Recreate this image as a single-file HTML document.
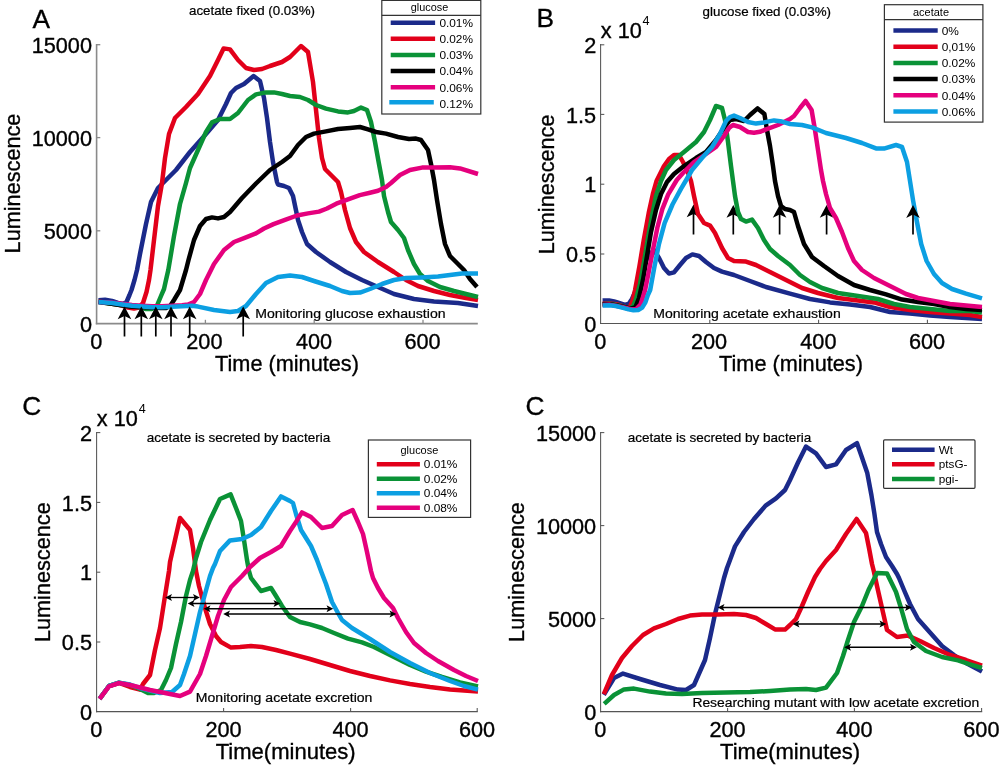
<!DOCTYPE html>
<html><head><meta charset="utf-8"><title>Figure</title>
<style>
html,body{margin:0;padding:0;background:#fff;}
svg{display:block;}
text{font-family:"Liberation Sans", sans-serif;fill:#000;}
</style></head><body>
<svg width="1000" height="765" viewBox="0 0 1000 765">
<rect x="0" y="0" width="1000" height="765" fill="#fff"/>
<g id="panel-a">
<line x1="96.6" y1="44.0" x2="96.6" y2="324.2" stroke="#8a8a8a" stroke-width="1.60"/>
<line x1="95.8" y1="323.6" x2="477.8" y2="323.6" stroke="#8a8a8a" stroke-width="1.60"/>
<line x1="96.6" y1="44.7" x2="100.3" y2="44.7" stroke="#8a8a8a" stroke-width="1.30"/>
<line x1="96.6" y1="137.6" x2="100.3" y2="137.6" stroke="#8a8a8a" stroke-width="1.30"/>
<line x1="96.6" y1="230.8" x2="100.3" y2="230.8" stroke="#8a8a8a" stroke-width="1.30"/>
<line x1="205.4" y1="323.6" x2="205.4" y2="319.8" stroke="#8a8a8a" stroke-width="1.30"/>
<line x1="314.2" y1="323.6" x2="314.2" y2="319.8" stroke="#8a8a8a" stroke-width="1.30"/>
<line x1="423.0" y1="323.6" x2="423.0" y2="319.8" stroke="#8a8a8a" stroke-width="1.30"/>
<polyline points="98.5,300.2 105.0,299.8 112.0,301.0 118.0,303.0 123.0,304.0 126.5,302.0 129.5,295.0 131.5,290.0 134.5,280.0 137.0,270.0 140.0,254.0 146.0,224.0 151.0,202.0 158.0,188.0 163.0,183.0 176.0,170.0 190.0,152.0 206.0,134.0 218.0,120.0 226.0,104.0 231.0,93.0 236.0,88.0 244.0,84.0 253.6,76.0 260.0,81.0 264.0,98.0 267.0,118.0 270.0,142.0 273.0,162.0 277.0,182.0 278.0,184.5 284.0,186.0 289.0,188.0 293.0,196.0 298.0,220.0 302.0,232.0 307.0,244.0 316.0,252.0 330.0,262.0 346.0,272.0 362.0,280.0 378.0,287.0 394.0,294.0 414.0,299.0 434.0,301.6 458.0,303.0 478.0,306.0" fill="none" stroke="#1b2a8a" stroke-width="4.5" stroke-linejoin="round" stroke-linecap="butt"/>
<polyline points="98.5,301.6 110.0,303.4 122.0,305.5 128.0,307.5 134.0,308.6 139.0,307.5 143.0,303.0 146.5,292.0 149.0,280.0 150.5,270.0 154.0,240.0 158.0,206.0 162.0,183.0 165.0,158.0 169.0,134.0 175.0,118.0 186.0,107.0 198.0,94.0 210.0,76.0 218.0,60.0 223.6,48.4 230.0,49.4 238.0,60.0 246.0,68.0 254.0,70.0 262.0,69.0 270.0,66.0 282.0,62.0 290.0,57.0 301.0,46.0 308.0,52.0 313.0,82.0 316.0,110.0 319.0,138.0 322.0,158.0 325.0,169.0 332.0,176.0 338.0,182.0 341.0,192.0 345.0,210.0 350.0,228.0 356.0,242.0 364.0,252.0 378.0,262.0 394.0,272.0 406.0,280.0 418.0,286.0 434.0,291.0 450.0,295.0 466.0,298.0 478.0,300.0" fill="none" stroke="#e2001a" stroke-width="4.5" stroke-linejoin="round" stroke-linecap="butt"/>
<polyline points="98.5,301.8 110.0,303.6 130.0,306.2 140.0,307.2 146.0,309.0 152.0,309.0 157.0,305.5 161.0,296.0 164.0,289.0 166.0,280.0 168.3,270.0 174.0,236.0 180.0,204.0 186.0,183.0 190.0,168.0 198.0,150.0 206.0,132.0 212.0,122.4 220.0,119.0 230.0,119.0 238.0,113.0 248.0,100.0 256.0,94.4 266.0,92.4 274.0,92.4 282.0,94.0 290.0,96.0 300.0,97.0 308.0,100.0 316.0,105.0 326.0,108.6 338.0,111.4 348.0,112.4 354.0,111.0 361.0,107.6 367.0,110.0 371.0,122.0 375.0,142.0 379.0,164.0 382.0,180.0 384.0,196.0 388.0,212.0 391.0,222.0 398.0,230.0 404.0,238.0 408.0,250.0 414.0,264.0 420.0,274.0 428.0,281.0 440.0,287.0 454.0,291.0 466.0,294.0 478.0,297.0" fill="none" stroke="#0a9236" stroke-width="4.5" stroke-linejoin="round" stroke-linecap="butt"/>
<polyline points="98.5,302.0 110.0,303.6 130.0,306.4 150.0,307.4 160.0,308.0 166.0,308.0 170.5,305.5 174.0,300.0 180.0,290.0 183.0,280.0 186.0,270.0 188.5,260.0 194.0,240.0 200.0,226.0 206.0,219.0 212.0,217.4 218.0,218.4 224.0,217.0 230.0,212.0 242.0,198.0 256.0,183.5 270.0,170.0 282.0,162.0 290.0,156.0 298.0,145.0 306.0,137.0 314.0,133.6 326.0,131.4 338.0,129.0 350.0,128.0 360.0,127.0 368.0,129.4 376.0,132.0 386.0,133.6 398.0,137.0 409.0,139.0 416.0,138.6 421.0,140.0 428.0,150.0 431.0,164.0 434.0,180.0 437.0,200.0 441.0,224.0 445.0,244.0 450.0,256.0 458.0,264.0 464.0,270.0 470.0,279.0 477.0,287.0" fill="none" stroke="#000000" stroke-width="4.5" stroke-linejoin="round" stroke-linecap="butt"/>
<polyline points="98.5,302.0 110.0,302.4 122.0,303.8 132.0,305.0 142.0,305.7 152.0,306.3 162.0,306.3 172.0,305.8 182.0,305.2 188.0,304.6 194.0,302.0 200.0,294.0 206.0,280.0 214.0,264.0 224.0,250.0 234.0,242.0 246.0,237.4 256.0,233.4 264.0,228.5 273.5,224.1 285.0,219.8 297.0,215.5 308.0,213.4 319.0,211.6 327.0,208.5 336.3,203.7 348.0,199.4 359.8,195.1 370.0,192.7 378.0,190.8 386.0,187.0 391.0,183.0 400.0,175.0 410.0,170.0 422.0,167.6 434.0,167.6 450.0,167.2 460.0,168.4 478.0,174.0" fill="none" stroke="#e5007d" stroke-width="4.5" stroke-linejoin="round" stroke-linecap="butt"/>
<polyline points="98.5,302.2 102.0,302.2 112.0,303.0 122.0,304.5 132.0,305.8 142.0,306.5 152.0,307.2 162.0,307.2 172.0,306.8 182.0,306.2 192.0,305.8 198.0,306.6 214.0,310.0 230.0,312.0 238.0,311.0 246.0,306.0 256.0,294.0 266.0,283.0 278.0,277.0 290.0,275.6 302.0,277.0 314.0,281.0 330.0,286.0 342.0,291.0 350.0,293.0 360.0,292.6 370.0,289.0 382.0,284.0 394.0,280.0 406.0,278.0 422.0,277.4 438.0,276.6 450.0,275.0 462.0,273.4 478.0,273.4" fill="none" stroke="#0c9fe2" stroke-width="4.5" stroke-linejoin="round" stroke-linecap="butt"/>
<path d="M124.5 312.5 L124.5 336.5" stroke="#000" stroke-width="1.7" fill="none"/><path d="M124.5 306.5 L131.3 319.3 L124.5 315.9 L117.7 319.3 Z" fill="#000"/>
<path d="M141.3 312.5 L141.3 336.5" stroke="#000" stroke-width="1.7" fill="none"/><path d="M141.3 306.5 L148.1 319.3 L141.3 315.9 L134.5 319.3 Z" fill="#000"/>
<path d="M155.8 312.5 L155.8 336.5" stroke="#000" stroke-width="1.7" fill="none"/><path d="M155.8 306.5 L162.6 319.3 L155.8 315.9 L149.0 319.3 Z" fill="#000"/>
<path d="M171.0 312.5 L171.0 336.5" stroke="#000" stroke-width="1.7" fill="none"/><path d="M171.0 306.5 L177.8 319.3 L171.0 315.9 L164.2 319.3 Z" fill="#000"/>
<path d="M189.7 312.5 L189.7 336.5" stroke="#000" stroke-width="1.7" fill="none"/><path d="M189.7 306.5 L196.5 319.3 L189.7 315.9 L182.9 319.3 Z" fill="#000"/>
<path d="M243.2 312.5 L243.2 336.5" stroke="#000" stroke-width="1.7" fill="none"/><path d="M243.2 306.5 L250.0 319.3 L243.2 315.9 L236.4 319.3 Z" fill="#000"/>
<text x="92.0" y="52.8" font-size="21.7" text-anchor="end" stroke="#000" stroke-width="0.35" >15000</text>
<text x="92.0" y="145.7" font-size="21.7" text-anchor="end" stroke="#000" stroke-width="0.35" >10000</text>
<text x="92.0" y="238.9" font-size="21.7" text-anchor="end" stroke="#000" stroke-width="0.35" >5000</text>
<text x="92.0" y="331.7" font-size="21.7" text-anchor="end" stroke="#000" stroke-width="0.35" >0</text>
<text x="96.4" y="349.0" font-size="21.7" text-anchor="middle" stroke="#000" stroke-width="0.35" >0</text>
<text x="204.4" y="349.0" font-size="21.7" text-anchor="middle" stroke="#000" stroke-width="0.35" >200</text>
<text x="314.0" y="349.0" font-size="21.7" text-anchor="middle" stroke="#000" stroke-width="0.35" >400</text>
<text x="422.6" y="349.0" font-size="21.7" text-anchor="middle" stroke="#000" stroke-width="0.35" >600</text>
<text x="287.0" y="371.4" font-size="21.7" text-anchor="middle" stroke="#000" stroke-width="0.35" >Time (minutes)</text>
<text transform="translate(20.0,183.5) rotate(-90)" font-size="21.7" text-anchor="middle" stroke="#000" stroke-width="0.35">Luminescence</text>
<text x="32.4" y="27.5" font-size="26.3" text-anchor="start" stroke="#000" stroke-width="0.30" >A</text>
<text x="189.0" y="14.9" font-size="13.1" text-anchor="start" stroke="#000" stroke-width="0.22" textLength="126" lengthAdjust="spacingAndGlyphs">acetate fixed (0.03%)</text>
<text x="255.2" y="317.8" font-size="13.7" text-anchor="start" stroke="#000" stroke-width="0.22" textLength="190.4" lengthAdjust="spacingAndGlyphs">Monitoring glucose exhaustion</text>
<rect x="381.8" y="0.4" width="99" height="113.6" fill="#fff" stroke="#333" stroke-width="1.2"/>
<line x1="381.8" y1="15.3" x2="480.8" y2="15.3" stroke="#333" stroke-width="1.20"/>
<text x="429.5" y="11.3" font-size="11.0" text-anchor="middle" textLength="37.4" lengthAdjust="spacingAndGlyphs">glucose</text>
<line x1="390.7" y1="22.7" x2="435.1" y2="22.7" stroke="#1b2a8a" stroke-width="4.50"/>
<text x="439.4" y="26.9" font-size="11.6" text-anchor="start" textLength="33.6" lengthAdjust="spacingAndGlyphs">0.01%</text>
<line x1="390.7" y1="38.8" x2="435.1" y2="38.8" stroke="#e2001a" stroke-width="4.50"/>
<text x="439.4" y="43.0" font-size="11.6" text-anchor="start" textLength="33.6" lengthAdjust="spacingAndGlyphs">0.02%</text>
<line x1="390.7" y1="55.0" x2="435.1" y2="55.0" stroke="#0a9236" stroke-width="4.50"/>
<text x="439.4" y="59.2" font-size="11.6" text-anchor="start" textLength="33.6" lengthAdjust="spacingAndGlyphs">0.03%</text>
<line x1="390.7" y1="71.1" x2="435.1" y2="71.1" stroke="#000000" stroke-width="4.50"/>
<text x="439.4" y="75.3" font-size="11.6" text-anchor="start" textLength="33.6" lengthAdjust="spacingAndGlyphs">0.04%</text>
<line x1="390.7" y1="87.3" x2="435.1" y2="87.3" stroke="#e5007d" stroke-width="4.50"/>
<text x="439.4" y="91.5" font-size="11.6" text-anchor="start" textLength="33.6" lengthAdjust="spacingAndGlyphs">0.06%</text>
<line x1="389.3" y1="102.2" x2="433.8" y2="102.2" stroke="#0c9fe2" stroke-width="4.50"/>
<text x="439.4" y="107.7" font-size="11.6" text-anchor="start" textLength="33.6" lengthAdjust="spacingAndGlyphs">0.12%</text>
</g>
<g id="panel-b">
<line x1="600.6" y1="44.0" x2="600.6" y2="324.0" stroke="#555555" stroke-width="1.05"/>
<line x1="600.0" y1="323.4" x2="982.2" y2="323.4" stroke="#555555" stroke-width="1.05"/>
<line x1="600.6" y1="44.8" x2="604.3" y2="44.8" stroke="#555555" stroke-width="1.05"/>
<line x1="600.6" y1="114.4" x2="604.3" y2="114.4" stroke="#555555" stroke-width="1.05"/>
<line x1="600.6" y1="184.2" x2="604.3" y2="184.2" stroke="#555555" stroke-width="1.05"/>
<line x1="600.6" y1="254.0" x2="604.3" y2="254.0" stroke="#555555" stroke-width="1.05"/>
<line x1="709.8" y1="323.4" x2="709.8" y2="319.8" stroke="#555555" stroke-width="1.05"/>
<line x1="818.6" y1="323.4" x2="818.6" y2="319.8" stroke="#555555" stroke-width="1.05"/>
<line x1="927.4" y1="323.4" x2="927.4" y2="319.8" stroke="#555555" stroke-width="1.05"/>
<path d="M693.5 210.5 L693.5 234.5" stroke="#000" stroke-width="1.7" fill="none"/><path d="M693.5 204.5 L700.3 217.3 L693.5 213.9 L686.7 217.3 Z" fill="#000"/>
<path d="M733.3 211.0 L733.3 234.5" stroke="#000" stroke-width="1.7" fill="none"/><path d="M733.3 205.0 L740.1 217.8 L733.3 214.4 L726.5 217.8 Z" fill="#000"/>
<path d="M779.6 211.0 L779.6 234.5" stroke="#000" stroke-width="1.7" fill="none"/><path d="M779.6 205.0 L786.4 217.8 L779.6 214.4 L772.8 217.8 Z" fill="#000"/>
<path d="M826.6 211.0 L826.6 234.5" stroke="#000" stroke-width="1.7" fill="none"/><path d="M826.6 205.0 L833.4 217.8 L826.6 214.4 L819.8 217.8 Z" fill="#000"/>
<polyline points="602.6,300.6 609.0,300.4 614.0,301.4 619.0,303.0 625.0,304.8 629.0,303.6 632.0,299.0 636.0,290.0 642.0,270.0 648.0,256.0 654.0,250.0 659.0,258.0 664.0,268.0 669.0,273.6 674.0,272.4 680.0,265.0 686.0,258.0 692.4,254.4 699.0,256.0 706.0,262.0 714.0,268.0 722.0,271.6 734.0,275.0 750.0,281.0 766.0,287.0 790.0,293.6 810.0,299.0 830.0,302.4 850.0,304.4 870.0,307.0 890.0,312.0 910.0,313.6 930.0,315.6 950.0,317.0 982.0,319.0" fill="none" stroke="#1b2a8a" stroke-width="4.5" stroke-linejoin="round" stroke-linecap="butt"/>
<polyline points="602.6,303.8 610.0,303.4 618.0,304.6 626.0,307.4 630.0,306.4 632.5,301.0 635.1,290.0 639.4,266.3 643.7,240.4 648.7,213.1 653.1,193.0 656.5,181.0 660.0,174.0 664.0,166.0 669.0,159.0 674.0,155.0 679.0,155.0 683.0,162.0 687.0,170.0 691.0,181.0 694.0,196.0 698.0,214.0 704.0,223.0 710.0,225.6 715.0,233.0 722.0,248.0 728.0,258.0 734.0,261.0 746.0,261.6 756.0,265.0 770.0,272.0 790.0,282.0 802.0,288.0 818.0,293.0 838.0,298.0 858.0,300.4 874.0,302.4 890.0,307.0 910.0,310.0 930.0,312.0 950.0,313.6 970.0,315.0 982.0,317.0" fill="none" stroke="#e2001a" stroke-width="4.5" stroke-linejoin="round" stroke-linecap="butt"/>
<polyline points="602.6,304.2 610.0,303.8 620.0,305.6 629.0,308.2 633.0,306.5 636.0,299.0 640.0,284.0 644.0,262.0 648.0,238.0 652.0,216.0 656.0,196.0 661.0,181.0 666.0,170.0 674.0,160.0 684.0,152.0 696.0,142.0 704.0,132.0 710.0,120.0 716.0,106.0 722.0,108.0 725.0,120.0 728.0,142.0 731.0,166.0 733.0,181.0 735.0,196.0 738.0,212.0 741.0,219.0 746.0,221.6 752.0,219.6 758.0,228.0 764.0,240.0 770.0,249.0 778.0,256.0 790.0,265.0 800.0,275.0 810.0,282.0 822.0,288.0 838.0,293.0 858.0,296.0 878.0,299.0 894.0,304.0 910.0,307.0 930.0,309.0 950.0,311.0 970.0,311.0 982.0,312.4" fill="none" stroke="#0a9236" stroke-width="4.5" stroke-linejoin="round" stroke-linecap="butt"/>
<polyline points="602.6,304.6 610.0,304.2 622.0,306.4 631.0,308.6 635.5,307.0 639.0,298.0 643.0,280.0 647.0,256.0 651.0,232.0 656.0,210.0 661.0,194.0 667.0,182.0 674.0,174.0 684.0,166.0 696.0,158.0 706.0,152.0 716.0,140.0 724.0,128.0 730.0,120.0 736.0,119.0 744.0,121.0 750.0,115.0 757.6,108.4 764.4,114.0 767.0,130.0 770.0,146.0 773.0,166.0 775.0,181.0 778.0,196.0 781.0,206.0 785.0,209.0 790.0,210.0 794.0,212.0 798.0,226.0 804.0,244.0 812.0,257.0 824.0,266.0 838.0,276.0 854.0,285.0 870.0,290.0 886.0,294.4 902.0,299.6 918.0,302.0 934.0,304.0 950.0,307.0 966.0,309.0 982.0,310.0" fill="none" stroke="#000000" stroke-width="4.5" stroke-linejoin="round" stroke-linecap="butt"/>
<polyline points="602.6,304.9 610.0,304.6 622.0,307.0 630.0,309.0 636.0,309.2 640.5,304.5 643.0,297.0 645.1,290.0 648.7,272.1 653.1,249.1 657.4,227.5 662.4,208.8 668.2,194.4 676.8,180.0 683.0,173.0 694.0,162.0 706.0,154.0 716.0,147.0 724.0,136.0 729.0,128.0 733.0,125.0 740.0,127.0 748.0,132.0 754.0,132.8 760.0,131.8 766.0,129.4 778.0,125.0 790.0,119.0 794.0,116.0 800.0,108.0 805.6,101.0 811.6,110.0 815.0,130.0 818.0,150.0 821.0,170.0 823.0,181.0 826.0,194.0 830.0,208.0 836.0,218.0 842.0,232.0 848.0,248.0 854.0,261.0 862.0,270.0 874.0,278.0 890.0,286.0 906.0,294.0 918.0,298.0 934.0,301.0 950.0,304.0 966.0,305.6 982.0,307.0" fill="none" stroke="#e5007d" stroke-width="4.5" stroke-linejoin="round" stroke-linecap="butt"/>
<polyline points="602.6,305.4 609.4,305.2 615.8,306.0 622.2,307.6 628.6,309.4 633.4,310.2 638.2,310.0 642.2,307.6 645.4,302.4 647.8,295.2 650.2,290.0 654.5,266.3 658.8,244.7 664.6,223.2 672.5,204.5 681.1,188.6 686.2,180.0 692.0,170.0 702.0,158.0 712.0,147.0 720.0,134.0 726.0,121.0 730.0,117.0 734.0,115.6 740.0,118.0 748.0,122.0 756.0,123.6 764.0,122.4 774.0,120.4 782.0,121.6 790.0,124.0 802.0,125.0 812.0,127.4 826.0,133.0 846.0,138.0 862.0,143.0 876.0,148.4 884.0,148.6 896.0,145.0 902.0,147.0 907.0,162.0 910.0,181.0 913.0,200.0 916.6,220.0 921.2,244.0 926.6,261.0 934.0,274.0 942.0,283.0 952.0,289.0 966.0,293.6 982.0,298.4" fill="none" stroke="#0c9fe2" stroke-width="4.5" stroke-linejoin="round" stroke-linecap="butt"/>
<path d="M913.0 211.1 L913.0 234.6" stroke="#000" stroke-width="1.7" fill="none"/><path d="M913.0 205.1 L919.8 217.9 L913.0 214.5 L906.2 217.9 Z" fill="#000"/>
<text x="596.2" y="52.9" font-size="21.7" text-anchor="end" stroke="#000" stroke-width="0.35" >2</text>
<text x="596.2" y="122.5" font-size="21.7" text-anchor="end" stroke="#000" stroke-width="0.35" >1.5</text>
<text x="596.2" y="192.3" font-size="21.7" text-anchor="end" stroke="#000" stroke-width="0.35" >1</text>
<text x="596.2" y="262.1" font-size="21.7" text-anchor="end" stroke="#000" stroke-width="0.35" >0.5</text>
<text x="596.2" y="331.7" font-size="21.7" text-anchor="end" stroke="#000" stroke-width="0.35" >0</text>
<text x="600.4" y="349.0" font-size="21.7" text-anchor="middle" stroke="#000" stroke-width="0.35" >0</text>
<text x="709.0" y="349.0" font-size="21.7" text-anchor="middle" stroke="#000" stroke-width="0.35" >200</text>
<text x="818.4" y="349.0" font-size="21.7" text-anchor="middle" stroke="#000" stroke-width="0.35" >400</text>
<text x="927.0" y="349.0" font-size="21.7" text-anchor="middle" stroke="#000" stroke-width="0.35" >600</text>
<text x="791.0" y="371.4" font-size="21.7" text-anchor="middle" stroke="#000" stroke-width="0.35" >Time (minutes)</text>
<text transform="translate(554.4,184.4) rotate(-90)" font-size="21.7" text-anchor="middle" stroke="#000" stroke-width="0.35">Luminescence</text>
<text x="536.6" y="27.2" font-size="26.3" text-anchor="start" stroke="#000" stroke-width="0.30" >B</text>
<text x="600.8" y="38.0" font-size="21.7" text-anchor="start" stroke="#000" stroke-width="0.35" >x 10</text>
<text x="642.6" y="25.0" font-size="12.6" text-anchor="start" >4</text>
<text x="702.6" y="15.8" font-size="13.1" text-anchor="start" stroke="#000" stroke-width="0.22" textLength="128.4" lengthAdjust="spacingAndGlyphs">glucose fixed (0.03%)</text>
<text x="653.3" y="318.3" font-size="13.7" text-anchor="start" stroke="#000" stroke-width="0.22" textLength="187.4" lengthAdjust="spacingAndGlyphs">Monitoring acetate exhaustion</text>
<rect x="884.4" y="4.7" width="98.5" height="117.4" fill="#fff" stroke="#333" stroke-width="1.2"/>
<line x1="884.4" y1="19.7" x2="982.9" y2="19.7" stroke="#333" stroke-width="1.20"/>
<text x="931.0" y="15.6" font-size="11.0" text-anchor="middle" textLength="36" lengthAdjust="spacingAndGlyphs">acetate</text>
<line x1="893.4" y1="30.5" x2="937.7" y2="30.5" stroke="#1b2a8a" stroke-width="4.50"/>
<text x="941.7" y="34.7" font-size="11.6" text-anchor="start" textLength="17.2" lengthAdjust="spacingAndGlyphs">0%</text>
<line x1="893.4" y1="46.7" x2="937.7" y2="46.7" stroke="#e2001a" stroke-width="4.50"/>
<text x="941.7" y="50.9" font-size="11.6" text-anchor="start" textLength="33.6" lengthAdjust="spacingAndGlyphs">0,01%</text>
<line x1="893.4" y1="62.9" x2="937.7" y2="62.9" stroke="#0a9236" stroke-width="4.50"/>
<text x="941.7" y="67.1" font-size="11.6" text-anchor="start" textLength="33.6" lengthAdjust="spacingAndGlyphs">0.02%</text>
<line x1="893.4" y1="79.1" x2="937.7" y2="79.1" stroke="#000000" stroke-width="4.50"/>
<text x="941.7" y="83.3" font-size="11.6" text-anchor="start" textLength="33.6" lengthAdjust="spacingAndGlyphs">0.03%</text>
<line x1="893.4" y1="95.3" x2="937.7" y2="95.3" stroke="#e5007d" stroke-width="4.50"/>
<text x="941.7" y="99.5" font-size="11.6" text-anchor="start" textLength="33.6" lengthAdjust="spacingAndGlyphs">0.04%</text>
<line x1="893.4" y1="111.5" x2="937.7" y2="111.5" stroke="#0c9fe2" stroke-width="4.50"/>
<text x="941.7" y="115.7" font-size="11.6" text-anchor="start" textLength="33.6" lengthAdjust="spacingAndGlyphs">0.06%</text>
</g>
<g id="panel-c">
<line x1="96.6" y1="432.0" x2="96.6" y2="712.2" stroke="#555555" stroke-width="1.05"/>
<line x1="96.0" y1="711.6" x2="477.8" y2="711.6" stroke="#555555" stroke-width="1.05"/>
<line x1="96.6" y1="432.6" x2="100.3" y2="432.6" stroke="#555555" stroke-width="1.05"/>
<line x1="96.6" y1="502.4" x2="100.3" y2="502.4" stroke="#555555" stroke-width="1.05"/>
<line x1="96.6" y1="572.2" x2="100.3" y2="572.2" stroke="#555555" stroke-width="1.05"/>
<line x1="96.6" y1="642.0" x2="100.3" y2="642.0" stroke="#555555" stroke-width="1.05"/>
<line x1="223.6" y1="711.6" x2="223.6" y2="708.0" stroke="#555555" stroke-width="1.05"/>
<line x1="350.6" y1="711.6" x2="350.6" y2="708.0" stroke="#555555" stroke-width="1.05"/>
<line x1="477.2" y1="711.6" x2="477.2" y2="708.0" stroke="#555555" stroke-width="1.05"/>
<polyline points="99.6,698.8 109.0,686.0 119.0,683.0 130.0,687.0 140.0,689.6 143.0,684.0 150.0,675.0 155.0,650.0 160.0,628.0 165.0,596.0 169.0,571.0 170.0,562.0 175.0,540.0 180.0,518.0 190.0,530.0 193.0,548.0 196.0,571.0 199.0,586.0 205.0,608.0 210.0,624.0 216.0,636.0 221.0,642.0 231.0,647.6 240.0,647.0 251.0,646.0 262.0,647.0 276.0,650.0 290.0,653.6 310.0,659.0 330.0,665.0 350.0,671.0 370.0,676.0 390.0,680.4 410.0,684.0 430.0,687.0 450.0,689.4 478.0,691.6" fill="none" stroke="#e2001a" stroke-width="4.5" stroke-linejoin="round" stroke-linecap="butt"/>
<polyline points="99.6,698.8 109.0,686.0 119.0,682.6 130.0,685.0 140.0,689.0 148.0,693.0 154.0,693.0 161.0,690.0 166.0,680.0 171.0,668.0 176.0,644.0 181.0,622.0 186.0,596.0 190.0,580.0 193.0,571.0 196.0,558.0 201.0,542.0 210.0,520.0 220.0,499.0 230.6,494.4 236.0,508.0 241.0,521.0 244.0,540.0 247.0,560.0 249.0,571.0 251.0,578.0 261.0,591.0 271.0,588.0 276.0,596.0 282.0,606.0 290.0,617.0 300.0,622.0 310.0,624.4 322.0,628.0 334.0,633.0 348.0,638.6 362.0,642.4 374.0,647.0 386.0,653.0 398.0,659.0 410.0,665.0 426.0,671.6 442.0,677.0 460.0,682.4 478.0,686.4" fill="none" stroke="#0a9236" stroke-width="4.5" stroke-linejoin="round" stroke-linecap="butt"/>
<polyline points="99.6,698.8 109.0,686.0 119.0,682.6 130.0,684.5 140.0,688.0 160.0,693.0 172.0,692.0 180.0,685.0 184.0,674.0 190.0,656.0 195.0,634.0 200.0,612.0 205.0,594.0 210.0,576.0 213.0,568.0 215.0,564.0 220.0,551.0 230.0,540.4 242.0,539.0 251.0,535.0 261.0,527.0 271.0,511.0 281.0,496.4 290.0,501.0 293.0,503.0 296.0,514.0 301.0,530.0 311.0,546.0 317.0,560.0 321.0,571.0 326.0,584.0 332.0,602.0 338.0,613.0 342.0,620.0 352.0,628.0 370.0,639.0 390.0,652.0 410.0,663.0 430.0,673.0 450.0,681.0 464.0,686.0 478.0,689.6" fill="none" stroke="#0c9fe2" stroke-width="4.5" stroke-linejoin="round" stroke-linecap="butt"/>
<polyline points="99.6,698.8 109.0,686.4 119.0,683.0 130.0,685.0 150.0,690.0 170.0,694.0 180.0,696.0 190.0,691.6 200.0,674.0 206.0,656.0 212.0,636.0 218.0,616.0 224.0,600.0 231.0,587.0 242.0,576.0 250.0,567.0 260.0,558.0 271.0,552.0 281.0,546.0 290.0,531.0 296.0,522.0 302.0,512.4 311.0,517.0 322.0,528.0 332.0,526.0 342.0,515.0 352.6,510.0 358.0,522.0 363.0,534.0 367.0,552.0 371.0,571.0 373.0,578.0 378.0,588.0 384.0,598.0 393.0,608.0 398.0,618.0 406.0,632.0 414.0,643.0 426.0,653.0 438.0,661.0 454.0,670.0 466.0,676.0 478.0,681.0" fill="none" stroke="#e5007d" stroke-width="4.5" stroke-linejoin="round" stroke-linecap="butt"/>
<path d="M168.2 597.5 L196.8 597.5" stroke="#000" stroke-width="1.35" fill="none"/><path d="M165.2 597.5 L172.0 594.0 L170.4 597.5 L172.0 601.0 Z" fill="#000"/><path d="M199.8 597.5 L193.0 594.0 L194.6 597.5 L193.0 601.0 Z" fill="#000"/>
<path d="M190.7 603.5 L277.3 603.5" stroke="#000" stroke-width="1.35" fill="none"/><path d="M187.7 603.5 L194.5 600.0 L192.9 603.5 L194.5 607.0 Z" fill="#000"/><path d="M280.3 603.5 L273.5 600.0 L275.1 603.5 L273.5 607.0 Z" fill="#000"/>
<path d="M206.7 608.7 L330.3 608.7" stroke="#000" stroke-width="1.35" fill="none"/><path d="M203.7 608.7 L210.5 605.2 L208.9 608.7 L210.5 612.2 Z" fill="#000"/><path d="M333.3 608.7 L326.5 605.2 L328.1 608.7 L326.5 612.2 Z" fill="#000"/>
<path d="M226.2 614.0 L393.3 614.0" stroke="#000" stroke-width="1.35" fill="none"/><path d="M223.2 614.0 L230.0 610.5 L228.4 614.0 L230.0 617.5 Z" fill="#000"/><path d="M396.3 614.0 L389.5 610.5 L391.1 614.0 L389.5 617.5 Z" fill="#000"/>
<text x="92.0" y="440.7" font-size="21.7" text-anchor="end" stroke="#000" stroke-width="0.35" >2</text>
<text x="92.0" y="510.5" font-size="21.7" text-anchor="end" stroke="#000" stroke-width="0.35" >1.5</text>
<text x="92.0" y="580.3" font-size="21.7" text-anchor="end" stroke="#000" stroke-width="0.35" >1</text>
<text x="92.0" y="650.1" font-size="21.7" text-anchor="end" stroke="#000" stroke-width="0.35" >0.5</text>
<text x="92.0" y="719.9" font-size="21.7" text-anchor="end" stroke="#000" stroke-width="0.35" >0</text>
<text x="96.4" y="737.2" font-size="21.7" text-anchor="middle" stroke="#000" stroke-width="0.35" >0</text>
<text x="223.6" y="737.2" font-size="21.7" text-anchor="middle" stroke="#000" stroke-width="0.35" >200</text>
<text x="350.6" y="737.2" font-size="21.7" text-anchor="middle" stroke="#000" stroke-width="0.35" >400</text>
<text x="477.0" y="737.2" font-size="21.7" text-anchor="middle" stroke="#000" stroke-width="0.35" >600</text>
<text x="285.7" y="758.6" font-size="21.7" text-anchor="middle" stroke="#000" stroke-width="0.35" textLength="140" lengthAdjust="spacingAndGlyphs">Time(minutes)</text>
<text transform="translate(50.0,572.2) rotate(-90)" font-size="21.7" text-anchor="middle" stroke="#000" stroke-width="0.35">Luminescence</text>
<text x="22.2" y="414.8" font-size="26.3" text-anchor="start" stroke="#000" stroke-width="0.30" >C</text>
<text x="96.8" y="425.6" font-size="21.7" text-anchor="start" stroke="#000" stroke-width="0.35" >x 10</text>
<text x="138.8" y="413.0" font-size="12.6" text-anchor="start" >4</text>
<text x="146.8" y="442.4" font-size="13.3" text-anchor="start" stroke="#000" stroke-width="0.22" textLength="183.4" lengthAdjust="spacingAndGlyphs">acetate is secreted by bacteria</text>
<text x="195.8" y="702.4" font-size="13.7" text-anchor="start" stroke="#000" stroke-width="0.22" textLength="176.6" lengthAdjust="spacingAndGlyphs">Monitoring acetate excretion</text>
<rect x="368.4" y="440" width="102.2" height="77.4" fill="#fff" stroke="#333" stroke-width="1.2"/>
<text x="419.4" y="453.5" font-size="11.0" text-anchor="middle" textLength="37.8" lengthAdjust="spacingAndGlyphs">glucose</text>
<line x1="376.8" y1="464.2" x2="419.9" y2="464.2" stroke="#e2001a" stroke-width="4.50"/>
<text x="423.8" y="468.3" font-size="11.6" text-anchor="start" textLength="33.6" lengthAdjust="spacingAndGlyphs">0.01%</text>
<line x1="376.8" y1="478.7" x2="419.9" y2="478.7" stroke="#0a9236" stroke-width="4.50"/>
<text x="423.8" y="482.8" font-size="11.6" text-anchor="start" textLength="33.6" lengthAdjust="spacingAndGlyphs">0.02%</text>
<line x1="376.8" y1="493.2" x2="419.9" y2="493.2" stroke="#0c9fe2" stroke-width="4.50"/>
<text x="423.8" y="497.3" font-size="11.6" text-anchor="start" textLength="33.6" lengthAdjust="spacingAndGlyphs">0.04%</text>
<line x1="376.8" y1="507.7" x2="419.9" y2="507.7" stroke="#e5007d" stroke-width="4.50"/>
<text x="423.8" y="511.8" font-size="11.6" text-anchor="start" textLength="33.6" lengthAdjust="spacingAndGlyphs">0.08%</text>
</g>
<g id="panel-d">
<line x1="600.6" y1="432.0" x2="600.6" y2="712.2" stroke="#555555" stroke-width="1.05"/>
<line x1="600.0" y1="711.6" x2="982.2" y2="711.6" stroke="#555555" stroke-width="1.05"/>
<line x1="600.6" y1="432.6" x2="604.3" y2="432.6" stroke="#555555" stroke-width="1.05"/>
<line x1="600.6" y1="525.6" x2="604.3" y2="525.6" stroke="#555555" stroke-width="1.05"/>
<line x1="600.6" y1="618.6" x2="604.3" y2="618.6" stroke="#555555" stroke-width="1.05"/>
<line x1="727.6" y1="711.6" x2="727.6" y2="708.0" stroke="#555555" stroke-width="1.05"/>
<line x1="854.4" y1="711.6" x2="854.4" y2="708.0" stroke="#555555" stroke-width="1.05"/>
<line x1="981.6" y1="711.6" x2="981.6" y2="708.0" stroke="#555555" stroke-width="1.05"/>
<polyline points="603.8,694.8 614.0,678.0 623.0,673.6 640.0,679.0 660.0,685.0 678.0,689.6 686.0,690.0 694.0,685.0 705.0,660.0 710.0,638.0 715.0,614.0 720.0,594.0 724.0,578.0 727.0,568.0 730.0,560.0 735.0,546.4 744.0,532.0 754.0,519.0 765.6,505.6 776.0,498.4 785.0,490.0 790.0,480.0 798.0,462.5 806.0,446.6 816.0,453.4 826.0,467.0 836.0,464.4 846.0,450.0 857.0,443.2 862.0,457.5 867.2,472.7 871.4,495.0 874.3,513.0 877.0,532.0 881.0,544.0 886.0,557.0 892.0,566.0 897.0,574.0 899.0,578.0 904.0,590.0 910.0,604.0 918.0,619.0 930.0,632.5 942.0,646.0 954.0,655.0 966.0,663.0 982.0,671.6" fill="none" stroke="#1b2a8a" stroke-width="4.5" stroke-linejoin="round" stroke-linecap="butt"/>
<polyline points="603.8,694.2 612.0,675.0 622.0,658.0 632.0,646.0 643.0,635.0 654.0,628.4 666.0,624.0 678.0,619.0 690.0,615.6 702.0,614.4 718.0,614.4 734.0,614.0 746.0,615.0 756.0,618.0 766.0,624.0 775.0,629.4 785.0,629.6 790.0,625.0 796.0,619.0 802.0,606.0 808.0,592.0 815.0,577.0 820.0,569.0 826.0,561.0 836.0,550.0 846.0,534.0 856.6,519.0 866.0,533.0 869.0,548.0 872.0,564.0 874.0,572.0 877.0,586.0 882.0,608.0 887.0,630.0 897.0,637.0 908.0,635.6 920.0,641.0 934.0,648.0 950.0,655.0 966.0,660.0 982.0,665.6" fill="none" stroke="#e2001a" stroke-width="4.5" stroke-linejoin="round" stroke-linecap="butt"/>
<polyline points="604.2,703.8 614.0,695.0 624.0,689.4 634.0,688.6 650.0,691.6 666.0,693.6 682.0,694.0 702.0,693.0 726.0,692.4 750.0,692.0 770.0,691.0 790.0,689.6 806.0,689.0 816.0,690.0 826.0,687.6 837.0,673.0 843.0,656.0 848.0,640.0 854.0,622.0 862.0,606.0 868.5,590.0 877.0,573.0 887.0,573.6 896.0,592.0 901.0,608.0 907.0,629.0 914.0,642.0 926.0,651.0 942.0,657.0 958.0,660.4 970.0,664.4 982.0,668.0" fill="none" stroke="#0a9236" stroke-width="4.5" stroke-linejoin="round" stroke-linecap="butt"/>
<path d="M720.7 607.5 L908.8 607.5" stroke="#000" stroke-width="1.35" fill="none"/><path d="M717.7 607.5 L724.5 604.0 L722.9 607.5 L724.5 611.0 Z" fill="#000"/><path d="M911.8 607.5 L905.0 604.0 L906.6 607.5 L905.0 611.0 Z" fill="#000"/>
<path d="M795.7 624.0 L883.3 624.0" stroke="#000" stroke-width="1.35" fill="none"/><path d="M792.7 624.0 L799.5 620.5 L797.9 624.0 L799.5 627.5 Z" fill="#000"/><path d="M886.3 624.0 L879.5 620.5 L881.1 624.0 L879.5 627.5 Z" fill="#000"/>
<path d="M847.2 647.2 L913.8 647.2" stroke="#000" stroke-width="1.35" fill="none"/><path d="M844.2 647.2 L851.0 643.7 L849.4 647.2 L851.0 650.7 Z" fill="#000"/><path d="M916.8 647.2 L910.0 643.7 L911.6 647.2 L910.0 650.7 Z" fill="#000"/>
<text x="596.2" y="440.7" font-size="21.7" text-anchor="end" stroke="#000" stroke-width="0.35" >15000</text>
<text x="596.2" y="533.7" font-size="21.7" text-anchor="end" stroke="#000" stroke-width="0.35" >10000</text>
<text x="596.2" y="626.7" font-size="21.7" text-anchor="end" stroke="#000" stroke-width="0.35" >5000</text>
<text x="596.2" y="719.9" font-size="21.7" text-anchor="end" stroke="#000" stroke-width="0.35" >0</text>
<text x="600.4" y="737.2" font-size="21.7" text-anchor="middle" stroke="#000" stroke-width="0.35" >0</text>
<text x="727.6" y="737.2" font-size="21.7" text-anchor="middle" stroke="#000" stroke-width="0.35" >200</text>
<text x="854.4" y="737.2" font-size="21.7" text-anchor="middle" stroke="#000" stroke-width="0.35" >400</text>
<text x="981.4" y="737.2" font-size="21.7" text-anchor="middle" stroke="#000" stroke-width="0.35" >600</text>
<text x="790.0" y="758.6" font-size="21.7" text-anchor="middle" stroke="#000" stroke-width="0.35" textLength="140" lengthAdjust="spacingAndGlyphs">Time(minutes)</text>
<text transform="translate(524.0,572.0) rotate(-90)" font-size="21.7" text-anchor="middle" stroke="#000" stroke-width="0.35">Luminescence</text>
<text x="525.6" y="414.8" font-size="26.3" text-anchor="start" stroke="#000" stroke-width="0.30" >C</text>
<text x="627.8" y="442.4" font-size="13.3" text-anchor="start" stroke="#000" stroke-width="0.22" textLength="183.4" lengthAdjust="spacingAndGlyphs">acetate is secreted by bacteria</text>
<text x="692.4" y="707.2" font-size="13.7" text-anchor="start" stroke="#000" stroke-width="0.22" textLength="286.8" lengthAdjust="spacingAndGlyphs">Researching mutant with low acetate excretion</text>
<rect x="883.6" y="439.9" width="91.4" height="48.4" rx="1" fill="#fff" stroke="#333" stroke-width="1.2"/>
<line x1="892.0" y1="449.7" x2="934.6" y2="449.7" stroke="#1b2a8a" stroke-width="4.50"/>
<text x="938.8" y="453.8" font-size="11.6" text-anchor="start" textLength="14.2" lengthAdjust="spacingAndGlyphs">Wt</text>
<line x1="892.0" y1="464.3" x2="934.6" y2="464.3" stroke="#e2001a" stroke-width="4.50"/>
<text x="938.8" y="468.4" font-size="11.6" text-anchor="start" textLength="28.6" lengthAdjust="spacingAndGlyphs">ptsG-</text>
<line x1="892.0" y1="478.9" x2="934.6" y2="478.9" stroke="#0a9236" stroke-width="4.50"/>
<text x="938.8" y="483.0" font-size="11.6" text-anchor="start" textLength="19.6" lengthAdjust="spacingAndGlyphs">pgi-</text>
</g>
</svg>
</body></html>
